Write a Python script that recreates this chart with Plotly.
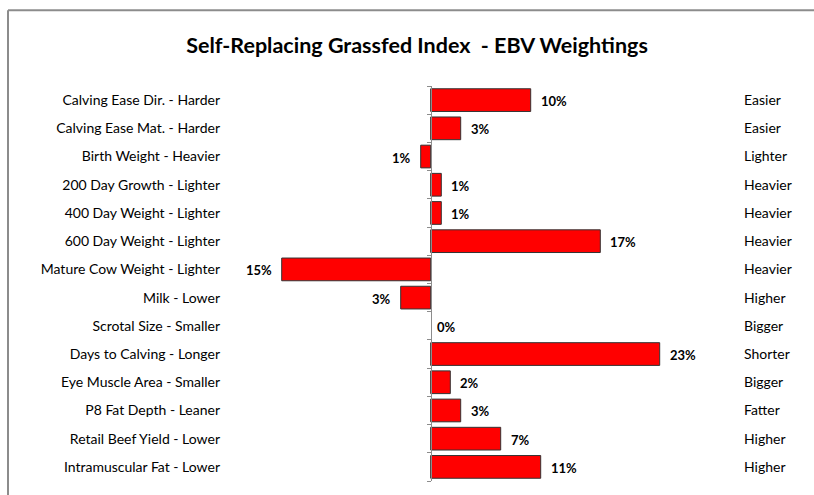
import plotly.graph_objects as go

traits = [
    "Calving Ease Dir. - Harder", "Calving Ease Mat. - Harder", "Birth Weight - Heavier",
    "200 Day Growth - Lighter", "400 Day Weight - Lighter", "600 Day Weight - Lighter",
    "Mature Cow Weight - Lighter", "Milk - Lower", "Scrotal Size - Smaller",
    "Days to Calving - Longer", "Eye Muscle Area - Smaller", "P8 Fat Depth - Leaner",
    "Retail Beef Yield - Lower", "Intramuscular Fat - Lower",
]
favourable = [
    "Easier", "Easier", "Lighter", "Heavier", "Heavier", "Heavier", "Heavier",
    "Higher", "Bigger", "Shorter", "Bigger", "Fatter", "Higher", "Higher",
]
weights = [10.0, 3.0, -1.0, 1.06, 1.06, 16.96, -14.9, -3.0, 0.0, 22.9, 1.96, 3.0, 7.0, 11.0]

W, H = 814, 495
ml, mr, mt, mb = 226, 74, 85.7, 14
pw = W - ml - mr
ph = H - mt - mb
zero_px = 430.7
px_per_unit = 10.0
xmin = -(zero_px - ml) / px_per_unit
xmax = xmin + pw / px_per_unit
zero_paper = (0 - xmin) / (xmax - xmin)

pos = list(range(len(traits)))
font_main = "Lato"
yr = [len(traits) - 0.5, -0.5]

fig = go.Figure()
fig.add_trace(go.Bar(
    x=weights, y=pos, orientation="h",
    marker=dict(color="#FF0000",
                line=dict(color="#333333", width=[1 if v != 0 else 0 for v in weights])),
    hoverinfo="x+y", showlegend=False,
))
# invisible helpers so the overlay axes are drawn
for ax in ("y2", "y3"):
    fig.add_trace(go.Scatter(x=[0], y=[0], yaxis=ax, mode="markers",
                             marker=dict(opacity=0), hoverinfo="skip", showlegend=False))

annotations = []
for i, v in enumerate(weights):
    if v > 0:
        xa, xs = "left", 8
    elif v < 0:
        xa, xs = "right", -8
    else:
        xa, xs = "left", 4
    annotations.append(dict(
        x=v, y=i, xref="x", yref="y", text=f"{round(abs(v))}%", showarrow=False,
        xanchor=xa, yanchor="middle", xshift=xs, yshift=-1,
        font=dict(family=font_main, size=13, color="#000000", weight="bold"),
    ))

def px_to_paper_x(p):
    return (p - ml) / pw

def px_to_paper_y(p):
    return (H - mb - p) / ph

border = dict(color="#8C8C8C", width=2)
fig.update_layout(
    width=W, height=H,
    margin=dict(l=ml, r=mr, t=mt, b=mb, pad=0),
    paper_bgcolor="white", plot_bgcolor="white",
    bargap=0.195,
    title=dict(
        text="<b>Self-Replacing Grassfed Index  - EBV Weightings</b>",
        x=417 / W, xanchor="center", y=1 - 45 / H, yanchor="middle",
        font=dict(family=font_main, size=21.5, color="#000000"),
    ),
    xaxis=dict(range=[xmin, xmax], showgrid=False, zeroline=False,
               showticklabels=False, showline=False, ticks=""),
    yaxis=dict(range=yr, tickvals=pos, ticktext=traits,
               showgrid=False, zeroline=False, showline=False, ticks="",
               ticklabelstandoff=5,
               tickfont=dict(family=font_main, size=14, color="#000000")),
    yaxis2=dict(range=yr, tickvals=pos, ticktext=favourable,
                overlaying="y", side="right", anchor="x",
                showgrid=False, zeroline=False, showline=False, ticks="",
                ticklabelstandoff=3,
                tickfont=dict(family=font_main, size=14, color="#000000")),
    yaxis3=dict(range=yr,
                tickvals=[p - 0.5 for p in pos] + [len(traits) - 0.5],
                overlaying="y", side="left", anchor="free", position=zero_paper,
                showgrid=False, zeroline=False, showline=True, linecolor="#8C8C8C",
                linewidth=1, ticks="outside", ticklen=4, tickcolor="#8C8C8C",
                showticklabels=False),
    annotations=annotations,
    shapes=[
        dict(type="line", xref="paper", yref="paper",
             x0=px_to_paper_x(8), x1=px_to_paper_x(W + 5),
             y0=px_to_paper_y(10), y1=px_to_paper_y(10), line=border, layer="below"),
        dict(type="line", xref="paper", yref="paper",
             x0=px_to_paper_x(8), x1=px_to_paper_x(8),
             y0=px_to_paper_y(10), y1=px_to_paper_y(H + 5), line=border, layer="below"),
    ],
)

fig.write_html("out.html", config={"displayModeBar": False},
               post_script="document.body.style.margin='0';"
                           "document.body.style.overflow='hidden';"
                           "document.documentElement.style.overflow='hidden';")
